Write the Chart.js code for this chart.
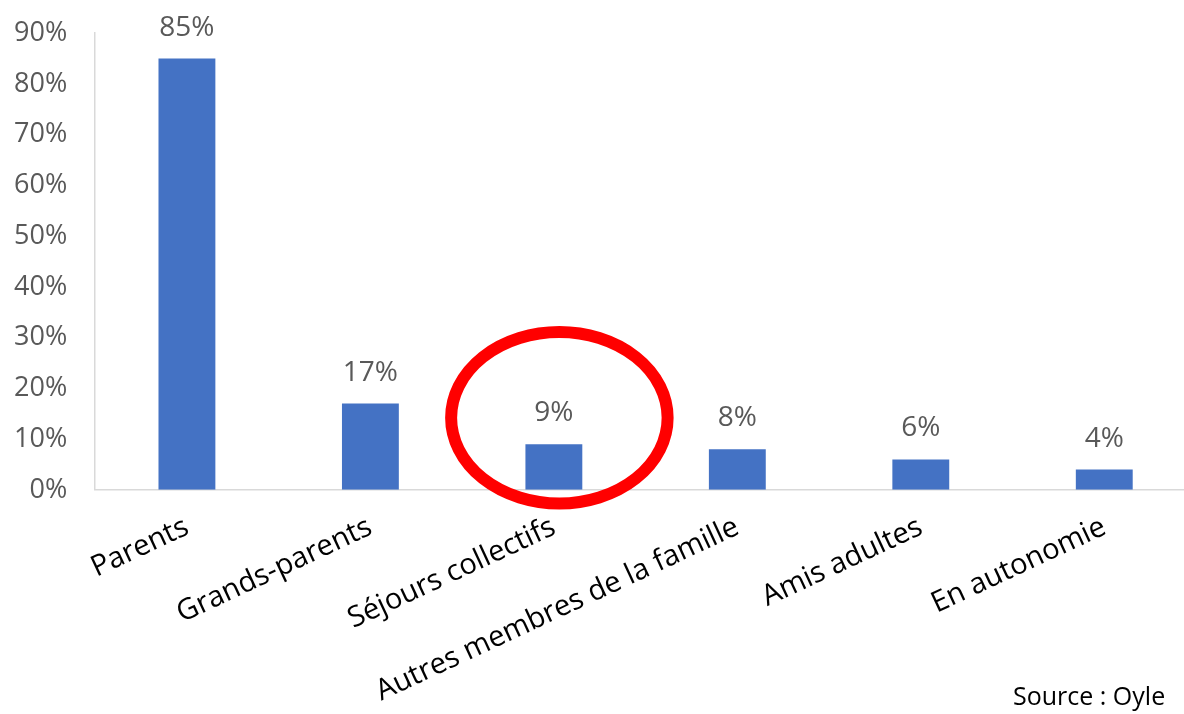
<!DOCTYPE html>
<html lang="fr">
<head>
  <meta charset="UTF-8">
  <title>Modes de départ en vacances</title>
  <script src="https://cdn.jsdelivr.net/npm/chart.js"></script>
  <style>
    html, body {
      margin: 0;
      padding: 0;
      background: #fff;
      overflow: hidden;
    }
    .wrap {
      position: relative;
      width: 1196px;
      height: 714px;
      overflow: hidden;
    }
    #chart {
      position: absolute;
      left: 0;
      top: -11px;
    }
    .source {
      position: absolute;
      left: 1013px;
      top: 680px;
      font-family: "Open Sans", sans-serif;
      font-size: 25px;
      line-height: 30px;
      color: #000;
      white-space: nowrap;
    }
  </style>
</head>
<body>
  <div class="wrap">
    <canvas id="chart" width="1196" height="745"></canvas>
    <div class="source">Source : Oyle</div>
  </div>

  <script>
    // chart data
    const categories = ['Parents', 'Grands-parents', 'Séjours collectifs', 'Autres membres de la famille', 'Amis adultes', 'En autonomie'];
    const shares = [85, 17, 9, 8, 6, 4];
    const yTicks = [0, 10, 20, 30, 40, 50, 60, 70, 80, 90];
    const highlighted = 2; // the circled bar

    const FONT = '"Open Sans", sans-serif';

    // value labels above the bars
    const valueLabels = {
      id: 'valueLabels',
      afterDatasetsDraw(chart) {
        const ctx = chart.ctx;
        const meta = chart.getDatasetMeta(0);
        ctx.save();
        ctx.font = '28px ' + FONT;
        ctx.fillStyle = '#595959';
        ctx.textAlign = 'center';
        ctx.textBaseline = 'bottom';
        meta.data.forEach((bar, i) => {
          ctx.fillText(shares[i] + '%', bar.x, bar.y - 17);
        });
        ctx.restore();
      }
    };

    // red ellipse around the highlighted bar
    const circleMark = {
      id: 'circleMark',
      afterDraw(chart) {
        const x = chart.scales.x, y = chart.scales.y;
        const catW = x.getPixelForValue(1) - x.getPixelForValue(0);
        const cx = x.getPixelForValue(highlighted) + catW * 0.03;
        const cy = y.getPixelForValue(14.2);
        const rx = catW * 0.59;
        const ry = y.getPixelForValue(0) - y.getPixelForValue(16.9);
        const ctx = chart.ctx;
        ctx.save();
        ctx.beginPath();
        ctx.ellipse(cx, cy, rx, ry, 0, 0, Math.PI * 2);
        ctx.lineWidth = 12;
        ctx.strokeStyle = '#ff0000';
        ctx.stroke();
        ctx.restore();
      }
    };

    new Chart(document.getElementById('chart'), {
      type: 'bar',
      data: {
        labels: categories,
        datasets: [{
          data: shares,
          backgroundColor: '#4472c4',
          borderWidth: 0,
          barPercentage: 0.31,
          categoryPercentage: 1
        }]
      },
      options: {
        responsive: false,
        animation: false,
        events: [],
        layout: {
          padding: { left: -14, top: 9, right: 0, bottom: 5 }
        },
        plugins: {
          legend: { display: false },
          tooltip: { enabled: false }
        },
        scales: {
          x: {
            grid: { display: false, drawTicks: false },
            border: { color: '#d9d9d9', width: 1.5 },
            ticks: {
              color: '#000',
              font: { family: FONT, size: 29 },
              minRotation: 25,
              maxRotation: 25,
              padding: 20
            }
          },
          y: {
            min: 0,
            max: 90,
            afterBuildTicks(axis) {
              axis.ticks = yTicks.map(v => ({ value: v }));
            },
            grid: { display: false, drawTicks: false },
            border: { color: '#d9d9d9', width: 1.5 },
            ticks: {
              color: '#595959',
              font: { family: FONT, size: 27 },
              padding: 28,
              callback: v => v + '%'
            }
          }
        }
      },
      plugins: [valueLabels, circleMark]
    });
  </script>
</body>
</html>
